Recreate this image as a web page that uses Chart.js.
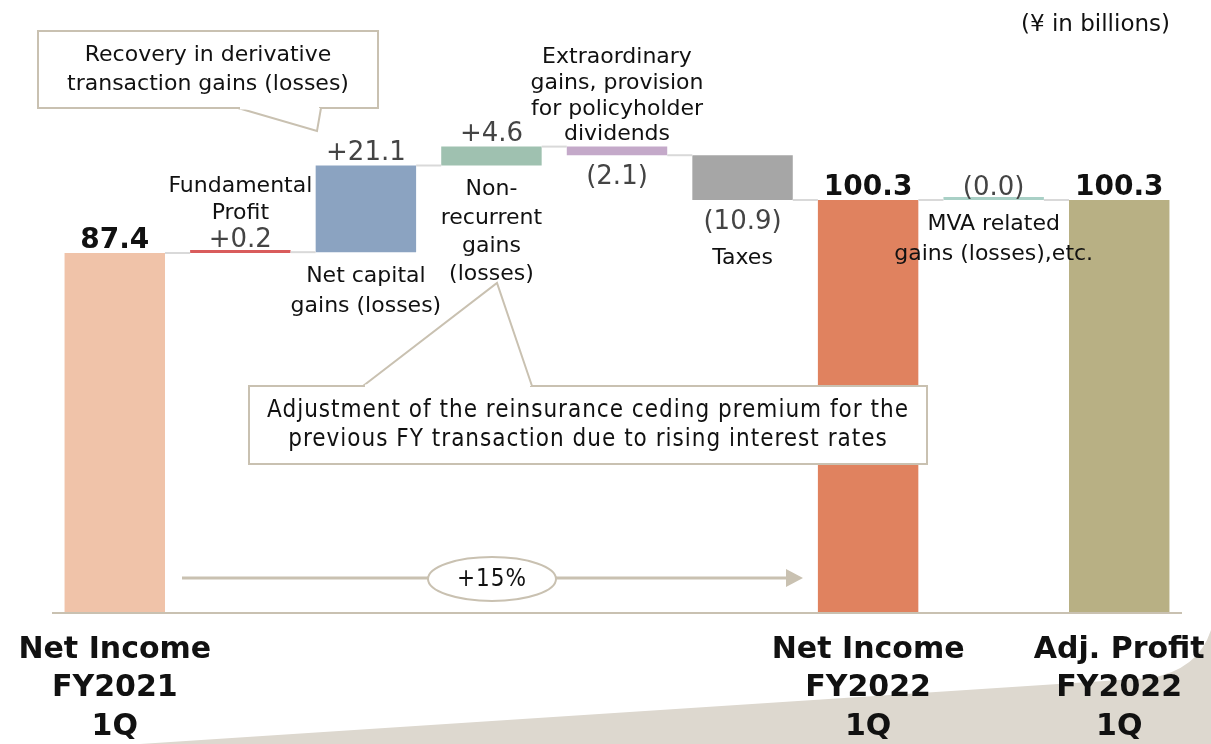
<!DOCTYPE html>
<html>
<head>
<meta charset="utf-8">
<script src="https://cdn.jsdelivr.net/npm/chart.js@4.4.0/dist/chart.umd.min.js"></script>
<style>
html, body { margin: 0; padding: 0; background: #fff; }
#wrap { width: 1211px; height: 744px; position: relative; }
</style>
</head>
<body>
<div id="wrap"><canvas id="myChart"></canvas></div>
<script>
// waterfall steps, ¥ in billions
const categories = ['Net Income FY2021 1Q', 'Fundamental Profit', 'Net capital gains (losses)',
  'Non-recurrent gains (losses)', 'Extraordinary gains, provision for policyholder dividends',
  'Taxes', 'Net Income FY2022 1Q', 'MVA related gains (losses),etc.', 'Adj. Profit FY2022 1Q'];
const changes = [87.4, 0.2, 21.1, 4.6, -2.1, -10.9, 100.3, 0.0, 100.3];
const isTotal = [true, false, false, false, false, false, true, false, true];
const valueLabels = ['87.4', '+0.2', '+21.1', '+4.6', '(2.1)', '(10.9)', '100.3', '(0.0)', '100.3'];
const barColors = ['#f0c3a9', '#d95c5c', '#8ba3c1', '#9fc1b0', '#c4a9c9', '#a6a6a6', '#e0825f', '#a9d0c6', '#b8b084'];
const axisLabels = [['Net Income', 'FY2021', '1Q'], [], [], [], [], [], ['Net Income', 'FY2022', '1Q'], [], ['Adj. Profit', 'FY2022', '1Q']];
const descLabels = [[], ['Fundamental', 'Profit'], ['Net capital', 'gains (losses)'], ['Non-', 'recurrent', 'gains', '(losses)'],
  ['Extraordinary', 'gains, provision', 'for policyholder', 'dividends'], ['Taxes'], [], ['MVA related', 'gains (losses),etc.'], []];
const descSide = ['', 'above', 'below', 'below', 'above', 'below', '', 'below', ''];

// build floating bars
const ranges = [];
let running = 0;
for (let i = 0; i < changes.length; i++) {
  if (isTotal[i]) {
    running = changes[i];
    ranges.push([0, changes[i]]);
  } else {
    ranges.push([running, running + changes[i]]);
    running = running + changes[i];
  }
}

const LINE = '#c9c1b1';
const FONT = '"DejaVu Sans", Verdana, sans-serif';
const NARROW = '"Liberation Sans Narrow", "DejaVu Sans Condensed", "Roboto Condensed", sans-serif';

function callout(ctx, box, tail, lines, font, lineGap, spacing) {
  ctx.save();
  ctx.fillStyle = '#fff';
  ctx.strokeStyle = LINE;
  ctx.lineWidth = 2;
  ctx.beginPath();
  ctx.rect(box.x, box.y, box.w, box.h);
  ctx.fill();
  ctx.stroke();
  ctx.beginPath();
  ctx.moveTo(tail[0][0], tail[0][1]);
  ctx.lineTo(tail[1][0], tail[1][1]);
  ctx.lineTo(tail[2][0], tail[2][1]);
  ctx.fill();
  ctx.stroke();
  // cover the box edge under the tail
  ctx.strokeStyle = '#fff';
  ctx.lineWidth = 3;
  ctx.beginPath();
  ctx.moveTo(tail[0][0] + 2, tail[0][1]);
  ctx.lineTo(tail[2][0] - 2, tail[2][1]);
  ctx.stroke();
  ctx.fillStyle = '#111';
  ctx.font = font;
  if (spacing) ctx.letterSpacing = spacing;
  ctx.textAlign = 'center';
  ctx.textBaseline = 'middle';
  const cx = box.x + box.w / 2;
  const y0 = box.y + box.h / 2 - (lines.length - 1) * lineGap / 2;
  lines.forEach((t, k) => ctx.fillText(t, cx, y0 + k * lineGap));
  ctx.restore();
}

const decoPlugin = {
  id: 'deco',
  beforeDraw(chart) {
    const ctx = chart.ctx;
    ctx.save();
    ctx.fillStyle = '#ddd8cf';
    ctx.beginPath();
    ctx.moveTo(140, 744);
    ctx.lineTo(1150, 678);
    ctx.quadraticCurveTo(1198, 670, 1211, 630);
    ctx.lineTo(1211, 744);
    ctx.closePath();
    ctx.fill();
    ctx.restore();
  },
  afterDatasetsDraw(chart) {
    const ctx = chart.ctx;
    const yScale = chart.scales.y;
    const meta = chart.getDatasetMeta(0);
    const area = chart.chartArea;
    const bars = meta.data;

    // connector lines between steps
    ctx.save();
    ctx.strokeStyle = '#d9d9d9';
    ctx.lineWidth = 2;
    for (let i = 0; i < bars.length - 1; i++) {
      const y = yScale.getPixelForValue(ranges[i][1]);
      ctx.beginPath();
      ctx.moveTo(bars[i].x + bars[i].width / 2, y);
      ctx.lineTo(bars[i + 1].x - bars[i + 1].width / 2, y);
      ctx.stroke();
    }
    ctx.restore();

    // baseline
    ctx.save();
    ctx.strokeStyle = LINE;
    ctx.lineWidth = 2;
    ctx.beginPath();
    ctx.moveTo(area.left, area.bottom + 1);
    ctx.lineTo(area.right, area.bottom + 1);
    ctx.stroke();
    ctx.restore();

    ctx.save();
    ctx.textAlign = 'center';
    ctx.textBaseline = 'middle';
    for (let i = 0; i < bars.length; i++) {
      const b = bars[i];
      const p0 = yScale.getPixelForValue(ranges[i][0]);
      const p1 = yScale.getPixelForValue(ranges[i][1]);
      const top = Math.min(p0, p1);
      const bottom = Math.max(p0, p1);
      const up = isTotal[i] || changes[i] >= 0;
      const vy = up ? top - 12 : bottom + 22;
      ctx.font = isTotal[i] ? 'bold 28px ' + FONT : '26px ' + FONT;
      ctx.fillStyle = isTotal[i] ? '#111' : '#444';
      ctx.fillText(valueLabels[i], b.x, vy);

      const d = descLabels[i];
      ctx.font = '22px ' + FONT;
      ctx.fillStyle = '#111';
      if (descSide[i] === 'above') {
        const last = up ? vy - 27 : top - 12;
        const gap = up ? 27 : 25.7;
        d.forEach((t, k) => ctx.fillText(t, b.x, last - (d.length - 1 - k) * gap));
      } else if (descSide[i] === 'below') {
        const first = up ? bottom + 24 : vy + 36;
        const gap = d.length > 2 ? 28.3 : 30;
        d.forEach((t, k) => ctx.fillText(t, b.x, first + k * gap));
      }

      ctx.font = 'bold 30px ' + FONT;
      axisLabels[i].forEach((t, k) => ctx.fillText(t, b.x, area.bottom + 38 + k * 38.5));
    }
    ctx.restore();

    // unit note
    ctx.save();
    ctx.font = '23px ' + FONT;
    ctx.fillStyle = '#111';
    ctx.textAlign = 'right';
    ctx.textBaseline = 'middle';
    ctx.fillText('(\u00a5 in billions)', 1170, 25);
    ctx.restore();

    callout(ctx, { x: 38, y: 31, w: 340, h: 77 }, [[238, 108], [317, 131], [321, 108]],
      ['Recovery in derivative', 'transaction gains (losses)'], '22px ' + FONT, 29);
    callout(ctx, { x: 249, y: 386, w: 678, h: 78 }, [[363, 386], [497, 283], [532, 386]],
      ['Adjustment of the reinsurance ceding premium for the', 'previous FY transaction due to rising interest rates'],
      '24px ' + NARROW, 29, '1px');

    // growth arrow with +15% bubble
    ctx.save();
    ctx.strokeStyle = LINE;
    ctx.fillStyle = LINE;
    ctx.lineWidth = 3;
    ctx.beginPath();
    ctx.moveTo(182, 578);
    ctx.lineTo(788, 578);
    ctx.stroke();
    ctx.beginPath();
    ctx.moveTo(786, 569);
    ctx.lineTo(803, 578);
    ctx.lineTo(786, 587);
    ctx.closePath();
    ctx.fill();
    ctx.beginPath();
    ctx.ellipse(492, 579, 64, 22, 0, 0, Math.PI * 2);
    ctx.fillStyle = '#fff';
    ctx.fill();
    ctx.lineWidth = 2;
    ctx.stroke();
    ctx.fillStyle = '#111';
    ctx.font = '24px ' + NARROW;
    ctx.letterSpacing = '1px';
    ctx.textAlign = 'center';
    ctx.textBaseline = 'middle';
    ctx.fillText('+15%', 492, 580);
    ctx.restore();
  }
};

const data = {
  labels: categories,
  datasets: [{
    data: ranges,
    backgroundColor: barColors,
    borderWidth: 0,
    barPercentage: 0.8,
    categoryPercentage: 1.0,
    minBarLength: 3
  }]
};

const config = {
  type: 'bar',
  data,
  options: {
    responsive: true,
    maintainAspectRatio: false,
    animation: false,
    layout: { padding: { left: 52, right: 29, top: 78, bottom: 132 } },
    plugins: { legend: { display: false }, tooltip: { enabled: false } },
    scales: {
      x: { display: false },
      y: { display: false, min: 0, max: 130 }
    }
  },
  plugins: [decoPlugin]
};

const myChart = new Chart(document.getElementById('myChart'), config);
</script>
</body>
</html>
